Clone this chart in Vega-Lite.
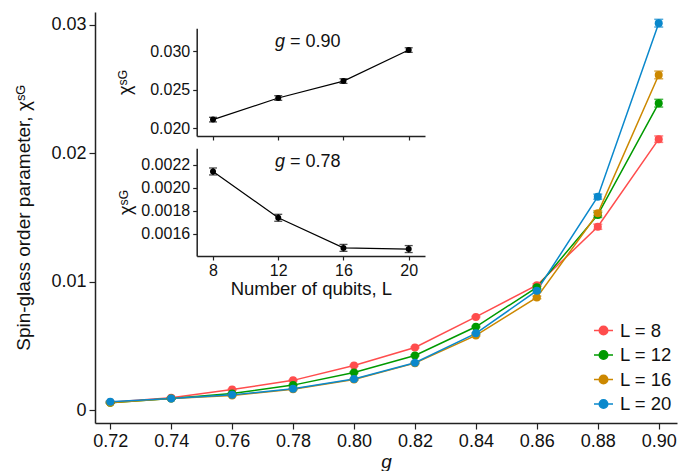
{
  "$schema": "https://vega.github.io/schema/vega-lite/v6.json",
  "width": 582,
  "height": 411,
  "autosize": {"type": "none"},
  "padding": {"left": 95, "top": 12, "right": 1, "bottom": 48},
  "config": {
    "font": "Liberation Sans",
    "view": {"stroke": null},
    "axis": {"grid": false, "domainColor": "#222", "tickColor": "#222", "labelColor": "#111", "titleColor": "#111", "domainWidth": 1.5, "tickWidth": 1.2, "titleFontWeight": "normal"}
  },
  "datasets": {
    "main": [
      {"g": 0.72, "L": 8, "chi": 0.00062, "err": 0.00005},
      {"g": 0.74, "L": 8, "chi": 0.00096, "err": 0.00005},
      {"g": 0.76, "L": 8, "chi": 0.00160, "err": 0.00005},
      {"g": 0.78, "L": 8, "chi": 0.00232, "err": 0.00005},
      {"g": 0.80, "L": 8, "chi": 0.00347, "err": 0.00005},
      {"g": 0.82, "L": 8, "chi": 0.00488, "err": 0.00005},
      {"g": 0.84, "L": 8, "chi": 0.00726, "err": 0.00005},
      {"g": 0.86, "L": 8, "chi": 0.00973, "err": 0.0001},
      {"g": 0.88, "L": 8, "chi": 0.01428, "err": 0.0002},
      {"g": 0.90, "L": 8, "chi": 0.02110, "err": 0.00025},
      {"g": 0.72, "L": 12, "chi": 0.00058, "err": 0.00005},
      {"g": 0.74, "L": 12, "chi": 0.00091, "err": 0.00005},
      {"g": 0.76, "L": 12, "chi": 0.00130, "err": 0.00005},
      {"g": 0.78, "L": 12, "chi": 0.00195, "err": 0.00005},
      {"g": 0.80, "L": 12, "chi": 0.00294, "err": 0.00005},
      {"g": 0.82, "L": 12, "chi": 0.00426, "err": 0.00005},
      {"g": 0.84, "L": 12, "chi": 0.00649, "err": 0.00005},
      {"g": 0.86, "L": 12, "chi": 0.00956, "err": 0.0001},
      {"g": 0.88, "L": 12, "chi": 0.01520, "err": 0.0002},
      {"g": 0.90, "L": 12, "chi": 0.02390, "err": 0.0003},
      {"g": 0.72, "L": 16, "chi": 0.00058, "err": 0.00005},
      {"g": 0.74, "L": 16, "chi": 0.00090, "err": 0.00005},
      {"g": 0.76, "L": 16, "chi": 0.00115, "err": 0.00005},
      {"g": 0.78, "L": 16, "chi": 0.00163, "err": 0.00005},
      {"g": 0.80, "L": 16, "chi": 0.00238, "err": 0.00005},
      {"g": 0.82, "L": 16, "chi": 0.00366, "err": 0.00005},
      {"g": 0.84, "L": 16, "chi": 0.00582, "err": 0.00005},
      {"g": 0.86, "L": 16, "chi": 0.00878, "err": 0.0001},
      {"g": 0.88, "L": 16, "chi": 0.01533, "err": 0.0002},
      {"g": 0.90, "L": 16, "chi": 0.02610, "err": 0.0003},
      {"g": 0.72, "L": 20, "chi": 0.00065, "err": 0.00005},
      {"g": 0.74, "L": 20, "chi": 0.00090, "err": 0.00005},
      {"g": 0.76, "L": 20, "chi": 0.00119, "err": 0.00005},
      {"g": 0.78, "L": 20, "chi": 0.00166, "err": 0.00005},
      {"g": 0.80, "L": 20, "chi": 0.00242, "err": 0.00005},
      {"g": 0.82, "L": 20, "chi": 0.00369, "err": 0.00005},
      {"g": 0.84, "L": 20, "chi": 0.00598, "err": 0.00005},
      {"g": 0.86, "L": 20, "chi": 0.00930, "err": 0.0001},
      {"g": 0.88, "L": 20, "chi": 0.01662, "err": 0.0002},
      {"g": 0.90, "L": 20, "chi": 0.03013, "err": 0.0003}
    ],
    "inset90": [
      {"L": 8, "chi": 0.02113, "err": 0.0003},
      {"L": 12, "chi": 0.02394, "err": 0.0003},
      {"L": 16, "chi": 0.02614, "err": 0.0003},
      {"L": 20, "chi": 0.03017, "err": 0.0003}
    ],
    "inset78": [
      {"L": 8, "chi": 0.00214, "err": 0.00003},
      {"L": 12, "chi": 0.00174, "err": 0.00003},
      {"L": 16, "chi": 0.00148, "err": 0.00003},
      {"L": 20, "chi": 0.00147, "err": 0.00003}
    ]
  },
  "layer": [
    {
      "data": {"name": "main"},
      "encoding": {
        "x": {"field": "g", "type": "quantitative",
          "scale": {"domain": [0.715, 0.906], "nice": false, "zero": false},
          "axis": {"values": [0.72, 0.74, 0.76, 0.78, 0.80, 0.82, 0.84, 0.86, 0.88, 0.90], "format": ".2f", "title": "g", "titleFontStyle": "italic", "labelFontSize": 18, "titleFontSize": 19, "tickSize": 6, "labelPadding": 3, "titlePadding": 2}},
        "y": {"field": "chi", "type": "quantitative",
          "scale": {"domain": [-0.001, 0.031], "nice": false, "zero": false},
          "axis": {"values": [0, 0.01, 0.02, 0.03], "format": ".2~f", "title": "Spin-glass order parameter, χˢᴳ", "labelFontSize": 18, "titleFontSize": 19, "tickSize": 6, "labelPadding": 3, "titlePadding": 17}},
        "color": {"field": "L", "type": "nominal",
          "scale": {"domain": [8, 12, 16, 20], "range": ["#ff4d4d", "#009a00", "#cc8800", "#0a88cc"]},
          "legend": {"title": null, "orient": "none", "legendX": 498, "legendY": 308, "padding": 0,
            "labelExpr": "'L = ' + datum.label", "labelFontSize": 18.5, "labelColor": "#111", "labelOffset": 6,
            "symbolType": "M-1,0H1M0.45,0A0.45,0.45,0,1,1,-0.45,0A0.45,0.45,0,1,1,0.45,0Z",
            "symbolSize": 361, "symbolStrokeWidth": 1.5, "rowPadding": 4.5,
            "encode": {"symbols": {"update": {"fill": {"scale": "color", "field": "value"}, "stroke": {"scale": "color", "field": "value"}, "opacity": {"value": 1}}}}}}
      },
      "layer": [
        {"mark": {"type": "line", "strokeWidth": 1.5}},
        {"mark": {"type": "errorbar", "ticks": {"size": 9}, "thickness": 1.5}, "encoding": {"yError": {"field": "err"}}},
        {"mark": {"type": "point", "filled": true, "size": 64, "opacity": 1}}
      ]
    },
    {
      "data": {"name": "inset90"},
      "encoding": {
        "x": {"field": "L", "type": "quantitative",
          "scale": {"domain": [7, 21], "range": [101.7, 330], "nice": false, "zero": false},
          "axis": {"orient": "bottom", "offset": -287, "values": [8, 12, 16, 20], "labels": false, "title": null, "tickSize": 4}},
        "y": {"field": "chi", "type": "quantitative",
          "scale": {"domain": [0.019, 0.033], "range": [124, 16.3], "nice": false, "zero": false},
          "axis": {"orient": "left", "offset": -101.7, "values": [0.02, 0.025, 0.03], "format": ".3f", "title": "χˢᴳ", "labelFontSize": 16, "titleFontSize": 18, "tickSize": 4, "labelPadding": 3, "titlePadding": 15}}
      },
      "layer": [
        {"mark": {"type": "line", "color": "#000", "strokeWidth": 1.2}},
        {"mark": {"type": "errorbar", "color": "#000", "ticks": {"size": 8}, "thickness": 1.3}, "encoding": {"yError": {"field": "err"}}},
        {"mark": {"type": "point", "filled": true, "color": "#000", "size": 36, "opacity": 1}},
        {"transform": [{"filter": "datum.L == 8"}],
          "mark": {"type": "text", "text": "g", "fontStyle": "italic", "fontWeight": "normal", "fontSize": 18, "align": "left", "baseline": "middle", "color": "#111"},
          "encoding": {"x": {"datum": 11.8}, "y": {"datum": 0.0312}}},
        {"transform": [{"filter": "datum.L == 8"}],
          "mark": {"type": "text", "text": "= 0.90", "fontWeight": "normal", "fontSize": 18, "align": "left", "baseline": "middle", "dx": 15, "color": "#111"},
          "encoding": {"x": {"datum": 11.8}, "y": {"datum": 0.0312}}}
      ]
    },
    {
      "data": {"name": "inset78"},
      "encoding": {
        "x": {"field": "L", "type": "quantitative",
          "scale": {"domain": [7, 21], "range": [101.7, 330], "nice": false, "zero": false},
          "axis": {"orient": "bottom", "offset": -167, "values": [8, 12, 16, 20], "title": "Number of qubits, L", "labelFontSize": 16, "titleFontSize": 18.5, "tickSize": 4, "labelPadding": 2, "titlePadding": 1}},
        "y": {"field": "chi", "type": "quantitative",
          "scale": {"domain": [0.00141, 0.00234], "range": [244, 136.3], "nice": false, "zero": false},
          "axis": {"orient": "left", "offset": -101.7, "values": [0.0016, 0.0018, 0.002, 0.0022], "format": ".4f", "title": "χˢᴳ", "labelFontSize": 16, "titleFontSize": 18, "tickSize": 4, "labelPadding": 3, "titlePadding": 5}}
      },
      "layer": [
        {"mark": {"type": "line", "color": "#000", "strokeWidth": 1.2}},
        {"mark": {"type": "errorbar", "color": "#000", "ticks": {"size": 8}, "thickness": 1.3}, "encoding": {"yError": {"field": "err"}}},
        {"mark": {"type": "point", "filled": true, "color": "#000", "size": 36, "opacity": 1}},
        {"transform": [{"filter": "datum.L == 8"}],
          "mark": {"type": "text", "text": "g", "fontStyle": "italic", "fontWeight": "normal", "fontSize": 18, "align": "left", "baseline": "middle", "color": "#111"},
          "encoding": {"x": {"datum": 11.8}, "y": {"datum": 0.00222}}},
        {"transform": [{"filter": "datum.L == 8"}],
          "mark": {"type": "text", "text": "= 0.78", "fontWeight": "normal", "fontSize": 18, "align": "left", "baseline": "middle", "dx": 15, "color": "#111"},
          "encoding": {"x": {"datum": 11.8}, "y": {"datum": 0.00222}}}
      ]
    }
  ],
  "resolve": {"scale": {"x": "independent", "y": "independent"}, "axis": {"x": "independent", "y": "independent"}}
}
